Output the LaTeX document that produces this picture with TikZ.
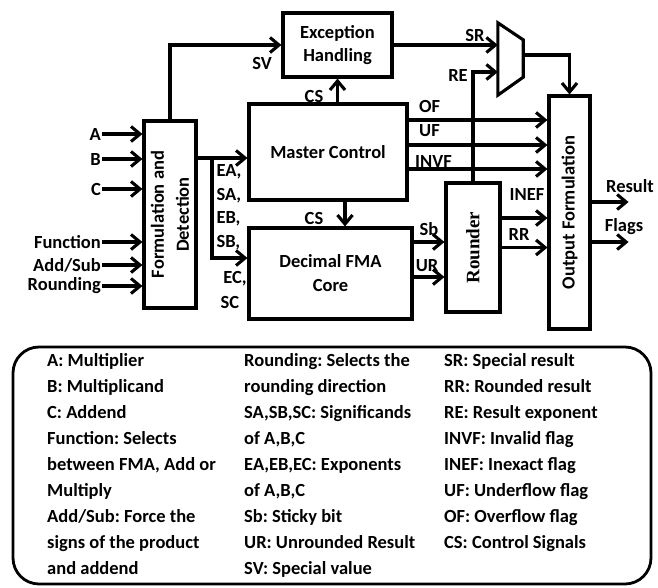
\documentclass[tikz,border=0pt]{standalone}
\usepackage{fontspec}
\setmainfont{Carlito}
\newfontfamily\rounderfont{Liberation Serif}
\usetikzlibrary{arrows.meta, positioning, calc}
\frenchspacing
\tikzset{
    >=Latex,
    font=\bfseries\fontsize{18.5}{23}\selectfont,
    fma_block/.style={
        rectangle,
        draw=black,
        line width=3.1pt,
        fill=white,
        inner sep=0pt,
        align=center
    },
    fma_line/.style={
        line width=3.1pt
    },
    fma_arrow/.style={
        -{Straight Barb[length=9pt, width=15pt]},
        line width=3.1pt
    },
    fma_label/.style={
        inner sep=0pt
    },
    fma_input/.style={
        anchor=east,
        inner sep=1pt
    },
    fma_legend/.style={
        rectangle,
        draw=black,
        line width=2.8pt,
        rounded corners=26pt
    },
    fma_key/.style={
        anchor=north west,
        align=left,
        inner sep=0pt,
        font=\bfseries\fontsize{18.5}{26}\selectfont
    }
}

\begin{document}
\begin{tikzpicture}[x=1pt, y=-1pt]
\useasboundingbox (0,0) rectangle (658,587);

% Blocks
\node[fma_block, minimum width=52pt, minimum height=187pt] (fd) at (170,214.5) {};
\node[rotate=90, align=center, font=\bfseries\fontsize{18.5}{25}\selectfont] (fdText) at (fd) {Formulation and\\Detection};
\node[fma_block, minimum width=109pt, minimum height=64pt] (eh) at (337.5,45) {Exception\\Handling};
\node[fma_block, minimum width=158pt, minimum height=96pt] (mc) at (328,152) {Master Control};
\node[fma_block, minimum width=163pt, minimum height=91pt, font=\bfseries\fontsize{18.5}{24}\selectfont] (fma) at (330.5,273.5) {Decimal FMA\\Core};
\node[fma_block, minimum width=54pt, minimum height=129pt] (rnd) at (473,247.5) {};
\node[rotate=90, font=\rounderfont\bfseries\fontsize{19}{23}\selectfont] (rndText) at (rnd) {Rounder};
\node[fma_block, minimum width=41pt, minimum height=233pt] (out) at (569.5,212.5) {};
\node[rotate=90] (outText) at (out) {Output Formulation};

% Multiplexer
\node[minimum width=25pt, minimum height=72pt, inner sep=0pt] (mux) at (510.5,59) {};
\draw[fma_line, line join=miter] (mux.north west) -- ([yshift=-17pt]mux.north east)
  -- ([yshift=18pt]mux.south east) -- (mux.south west) -- cycle;

% Inputs
\node[fma_input] (inA) at (102,134) {A};
\node[fma_input] (inB) at (102,159) {B};
\node[fma_input] (inC) at (102,189) {C};
\node[fma_input] (inFunc) at (102,242) {Function};
\node[fma_input] (inAddSub) at (102,265) {Add/Sub};
\node[fma_input] (inRound) at (102,286) {Rounding};

% Signal labels
\node[fma_label] (lblSV) at (262,63) {SV};
\node[fma_label] (lblCSup) at (314,96) {CS};
\node[fma_label] (lblCSdown) at (314,218) {CS};
\node[fma_label, align=left, font=\bfseries\fontsize{18.5}{23.5}\selectfont] (lblBus) at (229,207) {EA,\\SA,\\EB,\\SB,};
\node[fma_label, align=center, font=\bfseries\fontsize{18.5}{25}\selectfont] (lblBus2) at (230,290) {\hspace*{10pt}EC,\\SC};
\node[fma_label, anchor=west] (lblOF) at (419,106) {OF};
\node[fma_label, anchor=west] (lblUF) at (419,131) {UF};
\node[fma_label, anchor=west] (lblINVF) at (415,161) {INVF};
\node[fma_label] (lblSR) at (475,35) {SR};
\node[fma_label] (lblRE) at (458,75) {RE};
\node[fma_label] (lblSb) at (429,229) {Sb};
\node[fma_label] (lblUR) at (427,266) {UR};
\node[fma_label] (lblINEF) at (527,194) {INEF};
\node[fma_label] (lblRR) at (519,234) {RR};
\node[fma_label] (lblResult) at (630,186) {Result};
\node[fma_label] (lblFlags) at (624,227) {Flags};

% Edges
\foreach \n in {inA, inB, inC, inFunc, inAddSub, inRound}
  \draw[fma_arrow] (\n.east) -- (\n -| fd.west);

\draw[fma_arrow] (fd.north) |- (eh.west);
\draw[fma_arrow] (eh.south |- mc.north) -- (eh.south);
\draw[fma_arrow] ([xshift=17pt]mc.south) -- ([xshift=17pt]mc.south |- fma.north);

\coordinate (bus) at (212,158);
\draw[fma_line] (fd.east |- bus) -- (bus);
\draw[fma_arrow] (bus) -- (bus -| mc.west);
\draw[fma_arrow] (bus) |- ([yshift=15.5pt]fma.west);

\draw[fma_arrow] ([yshift=32pt]mc.east) -- ([yshift=32pt]mc.east -| out.west);
\draw[fma_arrow] ([yshift=7pt]mc.east) -- ([yshift=7pt]mc.east -| out.west);
\draw[fma_arrow] ([yshift=-17pt]mc.east) -- ([yshift=-17pt]mc.east -| out.west);

\draw[fma_arrow] (eh) -- (eh -| mux.west);
\draw[fma_arrow] (rnd.north) |- ([yshift=-13pt]mux.west);
\draw[fma_arrow] ([yshift=4pt]mux.east) -| (out.north);

\draw[fma_arrow] ([yshift=31.5pt]fma.east) -- ([yshift=31.5pt]fma.east -| rnd.west);
\draw[fma_arrow] ([yshift=-3.5pt]fma.east) -- ([yshift=-3.5pt]fma.east -| rnd.west);
\draw[fma_arrow] ([yshift=29.5pt]rnd.east) -- ([yshift=29.5pt]rnd.east -| out.west);
\draw[fma_arrow] (rnd.east) -- (rnd.east -| out.west);

\draw[fma_arrow] ([yshift=10.5pt]out.east) -- ++(37,0) coordinate (resEnd);
\draw[fma_arrow] ([yshift=-29.5pt]out.east) -- ++(37,0) coordinate (flagEnd);

% Legend
\node[fma_legend, minimum width=638pt, minimum height=237pt] (legend) at (332,465.5) {};
\node[fma_key] (keyA) at (47,353) {A: Multiplier\\B: Multiplicand\\C: Addend\\Function: Selects\\between FMA, Add or\\Multiply\\Add/Sub: Force the\\signs of the product\\and addend};
\node[fma_key] (keyB) at (244,353) {Rounding: Selects the\\rounding direction\\SA,SB,SC: Significands\\of A,B,C\\EA,EB,EC: Exponents\\of A,B,C\\Sb: Sticky bit\\UR: Unrounded Result\\SV: Special value};
\node[fma_key] (keyC) at (444,353) {SR: Special result\\RR: Rounded result\\RE: Result exponent\\INVF: Invalid flag\\INEF: Inexact flag\\UF: Underflow flag\\OF: Overflow flag\\CS: Control Signals};

\end{tikzpicture}
\end{document}
